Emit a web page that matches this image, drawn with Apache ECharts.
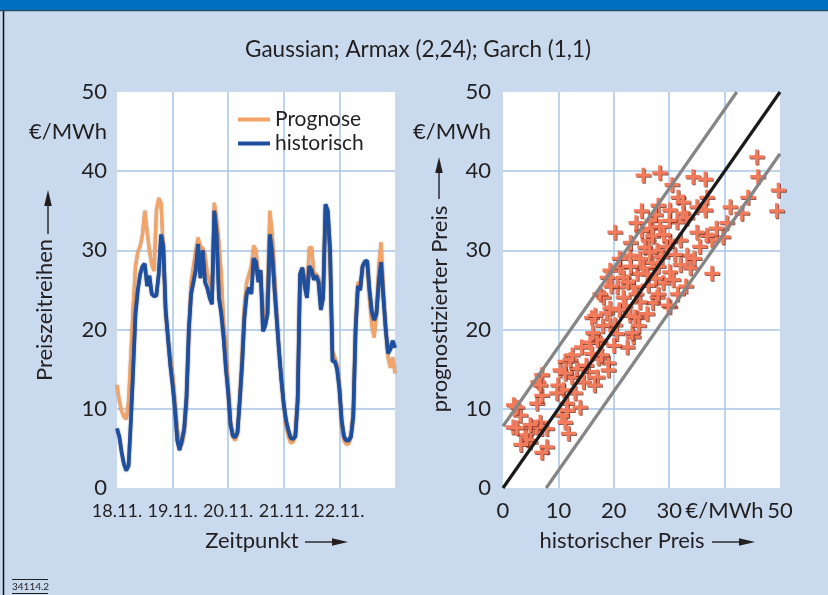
<!DOCTYPE html>
<html>
<head>
<meta charset="utf-8">
<script src="https://cdn.jsdelivr.net/npm/echarts@6/dist/echarts.min.js"></script>
<style>
html, body { margin: 0; padding: 0; background: #c9d9ee; }
#myChart { width: 828px; height: 595px; }
</style>
</head>
<body>
<div id="myChart"></div>
<script>
// Zeitreihen: stündliche Werte ab 18.11. 0 Uhr (€/MWh)
var dayLabels = ['18.11.', '19.11.', '20.11.', '21.11.', '22.11.', '']
var hourStep = 1
var prognose = [
  13, 11, 9.7, 9, 8.7, 11, 17, 23, 28, 29.8, 30.5, 32, 35, 32.4, 30, 28.2, 27.4, 35, 36.6, 36, 30, 22, 19, 16.5,
  14.5, 11, 7.5, 5.5, 5.5, 7, 10.5, 19, 26, 28, 30, 31.6, 30.5, 30.3, 29.5, 27, 26, 25, 36, 34, 31, 27, 21, 18,
  13, 8.5, 6.5, 6, 6.8, 11.5, 17, 23, 26, 27, 28, 30.6, 30, 27, 27, 22, 21, 25, 35, 32, 27, 22, 17.5, 13.5,
  10.5, 8, 6.5, 5.7, 5.8, 7, 12, 26, 27.8, 26.5, 25, 30.3, 30.4, 27, 27, 26.5, 23, 25, 35.8, 34.5, 28, 17.3, 16.5, 15.5,
  13, 8, 6, 5.5, 5.6, 6.5, 10, 21, 26, 25.5, 28, 28.5, 28.3, 24, 20.5, 19, 22, 28, 31, 25, 20, 16.5, 15.2, 16.5,
  14.5
]
var historisch = [
  7.5, 6.5, 4.5, 3, 2.2, 2.8, 8.5, 15, 22, 25, 27, 28, 28.3, 25.5, 26.8, 24.5, 24.2, 24.3, 27, 32, 30.5, 22.5, 19, 15.5,
  13, 10, 6, 4.8, 6, 7.5, 11.5, 20, 24.5, 26, 27.5, 30.8, 26.5, 30, 26, 25.2, 24, 23.2, 35, 32, 24, 22, 19, 15,
  12, 8, 6.6, 6.4, 7, 11, 15.5, 21.5, 24.5, 25.3, 24.5, 29, 28.5, 26, 27.5, 19.8, 20.5, 22, 32, 29.5, 25, 21, 17, 13.5,
  10.5, 8.5, 7.3, 6.3, 6.2, 6.5, 11, 27, 27.8, 25.5, 24, 28, 27.5, 26.3, 26.8, 26, 22.5, 24, 35.8, 35, 30, 16, 16, 15,
  12.5, 8.5, 6.5, 6, 6, 6.5, 9, 20, 25.5, 25, 28, 28.6, 28.7, 25, 22.3, 21.2, 22, 26, 28.5, 24, 20, 17, 17.5, 18.6,
  17.7
]

// Streudiagramm: historischer Preis (x) gegen prognostizierten Preis (y)
var histPreis = [
  1.9, 3.1, 1.8, 4, 5.4, 6.7, 7, 7.9, 7, 4.9, 6.1, 7, 6.3, 7, 10.3, 11.2, 9.9, 10.9, 11.5, 10.6,
  11.2, 11.8, 13.9, 12.4, 14.5, 13.3, 15.4, 14.2, 15.7, 17.5, 19, 17.2, 16, 18.7, 20.2, 22.4, 23.5,
  24.2, 27, 30.1, 17, 19, 17, 12.1, 11.2, 9.7, 11.6, 6.7, 2.5, 2.5, 4.3, 7.9, 6.1, 4.9, 3.2,
  45.8, 46, 49.7, 49.4, 25.3, 28.3, 30.5, 34.3, 36.5, 31.6, 32.5, 36.8, 35, 36.5, 44.2, 41, 43.1, 40.4,
  39.7, 37.7, 36.8, 28, 30.1, 32.5, 26.9, 20.2, 26.5, 28.3, 31.4, 33.2, 35, 32, 30.1, 26.2, 25.6, 27.8,
  22.9, 24.7, 26.9, 28.7, 33.2, 32, 33.8, 37.7, 19.3, 21.1, 18.8, 21.7, 24.2, 25.3, 30.1, 20.6, 23.5,
  26.2, 28.9, 30.7, 18.1, 21.7, 24.7, 27.8, 29.8, 19.3, 22.9, 23.8, 16.6, 19.3, 16.2, 23.3,
  17.5, 19.5, 22, 24, 26, 27.5, 21, 23, 25, 27, 29, 28, 26.5, 22.5, 18, 20.5, 16, 15, 13, 16.5,
  12.5, 17.8, 20, 21, 24.5, 26, 28, 31, 29.5, 30, 27.5, 25, 23, 31.5, 33, 34.5, 35.5, 38.5, 24
]
var progPreis = [
  10.5, 9.2, 7.7, 6.7, 7.7, 8.3, 7.5, 7.5, 4.5, 5.8, 10.7, 14.3, 13.4, 11.7, 14.9, 16, 13, 12.4, 10.7, 9.2,
  8.3, 6.9, 10.2, 14, 13.4, 15.1, 14.7, 17.8, 18.4, 18.4, 15.8, 16.4, 21.5, 22.1, 20.6, 17.8, 19.1,
  21.5, 23.4, 22.9, 18.7, 14.9, 14, 16.2, 14.5, 12, 9.8, 13, 10.2, 7.6, 6.1, 5.2, 7.7, 8, 5.5,
  41.8, 39.3, 37.6, 35, 39.5, 39.8, 38.3, 39.3, 39, 36.7, 36.1, 36.7, 35.5, 35.1, 36.7, 35.5, 34.7, 33.5,
  31.7, 31.3, 31.9, 35.7, 35.1, 34.7, 33.8, 32.3, 32.8, 33, 33.6, 34.1, 32.3, 31.3, 31.1, 31.3, 30.4, 30,
  29.4, 29, 28.5, 29.2, 29.4, 28.2, 27.8, 27.1, 27.5, 27.9, 26.6, 26.6, 27.1, 27.8, 27.3, 25.4, 25.4,
  25.6, 25.9, 26.3, 24.1, 24.1, 23.5, 24.1, 23.1, 22.7, 21.8, 21.6, 21.8, 20.6, 19.6, 19.6,
  24.5, 25.5, 23, 24.5, 27, 26.5, 29, 31, 32.5, 31.8, 32, 28, 29.8, 26, 20.5, 19.5, 17, 15.5, 12, 13,
  16.8, 16.8, 18, 22.5, 20.5, 22, 24.5, 29.5, 30.5, 33.8, 34.5, 35, 28, 24.5, 25.5, 29, 30.5, 32.8, 33.5
]
// Winkelhalbierende und Bandgrenzen
var diagonale = [[0, 0], [50, 50]]
var bandOben = [[0, 7.8], [42.2, 50]]
var bandUnten = [[7.8, 0], [50, 42.2]]
var preisLabels = ['0', '10', '20', '30', '€/MWh', '50']

var FONT = 'Lato'
var TXT = '#231f20'
var GRID_COLOR = '#a9c5e6'

var streuPunkte = histPreis.map(function (x, i) { return [x, progPreis[i]] })
var progPunkte = prognose.map(function (v, i) { return [i * hourStep, v] })
var histPunkte = historisch.map(function (v, i) { return [i * hourStep, v] })

function valueAxis (gridIndex, extra) {
  var axis = {
    gridIndex: gridIndex,
    type: 'value',
    min: 0,
    max: 50,
    interval: 10,
    axisLine: { show: false },
    axisTick: { show: false },
    splitLine: { show: true, showMinLine: false, showMaxLine: false, lineStyle: { color: GRID_COLOR, width: 1.5 } },
    axisLabel: { color: TXT, fontSize: 22, fontFamily: FONT, margin: 10, showMinLabel: true, showMaxLabel: true }
  }
  return Object.assign(axis, extra || {})
}

// Einheit "€/MWh" bei 45 auf der y-Achse
function unitAxis (gridIndex, margin) {
  return {
    gridIndex: gridIndex,
    type: 'value',
    position: 'left',
    min: 0,
    max: 50,
    interval: 5,
    axisLine: { show: false },
    axisTick: { show: false },
    splitLine: { show: false },
    axisLabel: {
      color: TXT, fontSize: 22, fontFamily: FONT, margin: margin, padding: [0, 0, 10, 0],
      formatter: function (v) { return v === 45 ? '€/MWh' : '' }
    }
  }
}

function arrow (x1, y1, x2, y2) {
  // Pfeil von (x1,y1) nach (x2,y2), nur waagrecht oder senkrecht
  var dx = x2 === x1 ? 0 : (x2 > x1 ? 1 : -1)
  var dy = y2 === y1 ? 0 : (y2 > y1 ? 1 : -1)
  var len = 16
  var half = 3.8
  var bx = x2 - dx * len
  var by = y2 - dy * len
  return {
    type: 'group',
    children: [
      { type: 'line', shape: { x1: x1, y1: y1, x2: bx, y2: by }, style: { stroke: TXT, lineWidth: 1.4 } },
      {
        type: 'polygon',
        shape: { points: [[x2, y2], [bx - dy * half, by + dx * half], [bx + dy * half, by - dx * half]] },
        style: { fill: TXT }
      }
    ]
  }
}

function text (x, y, str, size, rotate) {
  return {
    type: 'text',
    x: x,
    y: y,
    rotation: rotate ? Math.PI / 2 : 0,
    style: { text: str, fill: TXT, font: size + 'px ' + FONT, align: 'center', verticalAlign: 'middle' }
  }
}

var myChart = echarts.init(document.getElementById('myChart'))
myChart.setOption({
  backgroundColor: '#c9d9ee',
  animation: false,
  textStyle: { fontFamily: FONT },
  grid: [
    { left: 117, top: 92, width: 278, height: 396, backgroundColor: '#fff', show: true, borderWidth: 0, outerBoundsMode: 'none', containLabel: false },
    { left: 503, top: 92, width: 277, height: 396, backgroundColor: '#fff', show: true, borderWidth: 0, outerBoundsMode: 'none', containLabel: false }
  ],
  legend: {
    data: ['Prognose', 'historisch'],
    orient: 'vertical',
    left: 233,
    top: 104,
    itemWidth: 32,
    itemHeight: 4,
    itemGap: 3,
    icon: 'rect',
    textStyle: { color: TXT, fontSize: 21, fontFamily: FONT }
  },
  xAxis: [
    {
      gridIndex: 0,
      type: 'value',
      min: 0,
      max: 120,
      interval: 24,
      axisLine: { show: false },
      axisTick: { show: false },
      splitLine: { show: true, showMinLine: false, showMaxLine: false, lineStyle: { color: GRID_COLOR, width: 1.5 } },
      axisLabel: {
        color: TXT, fontSize: 18, fontFamily: FONT, margin: 14, showMinLabel: true, hideOverlap: false,
        formatter: function (v) { return dayLabels[v / 24] }
      }
    },
    valueAxis(1, {
      axisLabel: {
        color: TXT, fontSize: 22, fontFamily: FONT, margin: 12, showMinLabel: true, showMaxLabel: true,
        formatter: function (v) { return preisLabels[v / 10] }
      }
    })
  ],
  yAxis: [
    valueAxis(0),
    unitAxis(0, 10),
    valueAxis(1, { axisLabel: { color: TXT, fontSize: 22, fontFamily: FONT, margin: 12, showMinLabel: true, showMaxLabel: true } }),
    unitAxis(1, 12)
  ],
  series: [
    {
      name: 'Prognose',
      type: 'line',
      xAxisIndex: 0,
      yAxisIndex: 0,
      data: progPunkte,
      showSymbol: false,
      color: '#f3a468',
      lineStyle: { width: 3.2, color: '#f3a468', shadowColor: 'rgba(120,60,20,0.55)', shadowBlur: 1.5 }
    },
    {
      name: 'historisch',
      type: 'line',
      xAxisIndex: 0,
      yAxisIndex: 0,
      data: histPunkte,
      showSymbol: false,
      color: '#1d4f9e',
      lineStyle: { width: 3.6, color: '#1d4f9e', shadowColor: 'rgba(10,30,70,0.7)', shadowBlur: 1.5 }
    },
    {
      type: 'line',
      xAxisIndex: 1,
      yAxisIndex: 2,
      data: bandOben,
      showSymbol: false,
      lineStyle: { width: 3.2, color: '#858585' }
    },
    {
      type: 'line',
      xAxisIndex: 1,
      yAxisIndex: 2,
      data: bandUnten,
      showSymbol: false,
      lineStyle: { width: 3.2, color: '#858585' }
    },
    {
      type: 'line',
      xAxisIndex: 1,
      yAxisIndex: 2,
      data: diagonale,
      showSymbol: false,
      lineStyle: { width: 3.2, color: '#1a1a1a' }
    },
    {
      type: 'scatter',
      xAxisIndex: 1,
      yAxisIndex: 2,
      data: streuPunkte,
      symbol: 'path://M3.9,0H6.1V3.9H10V6.1H6.1V10H3.9V6.1H0V3.9H3.9Z',
      symbolSize: 15,
      itemStyle: {
        color: '#f27b5b',
        opacity: 1,
        shadowColor: 'rgba(110,35,20,0.75)',
        shadowOffsetX: 1,
        shadowOffsetY: 1,
        shadowBlur: 0
      }
    }
  ],
  graphic: [
    // Kopfbalken und linker Rand
    { type: 'rect', shape: { x: 0, y: 0, width: 828, height: 10 }, style: { fill: '#0071c1' } },
    { type: 'line', shape: { x1: 0, y1: 10.5, x2: 828, y2: 10.5 }, style: { stroke: '#21506f', lineWidth: 1.5 } },
    { type: 'line', shape: { x1: 3.5, y1: 11, x2: 3.5, y2: 595 }, style: { stroke: '#111', lineWidth: 1.5 } },
    text(418, 50, 'Gaussian; Armax (2,24); Garch (1,1)', 22.5),
    text(45, 310, 'Preiszeitreihen', 22, true),
    arrow(48, 234, 48, 190),
    text(440, 309, 'prognostizierter Preis', 22, true),
    arrow(439, 199, 439, 157),
    text(252, 541, 'Zeitpunkt', 22),
    arrow(305, 542, 348, 542),
    text(622, 541, 'historischer Preis', 22),
    arrow(712, 542, 755, 542),
    // Bildnummer
    { type: 'line', shape: { x1: 12, y1: 579.5, x2: 48, y2: 579.5 }, style: { stroke: TXT, lineWidth: 1 } },
    { type: 'line', shape: { x1: 12, y1: 593.5, x2: 48, y2: 593.5 }, style: { stroke: TXT, lineWidth: 1 } },
    { type: 'text', x: 12, y: 586.5, style: { text: '34114.2', fill: TXT, font: '10px ' + FONT, verticalAlign: 'middle' } }
  ]
})
</script>
</body>
</html>
